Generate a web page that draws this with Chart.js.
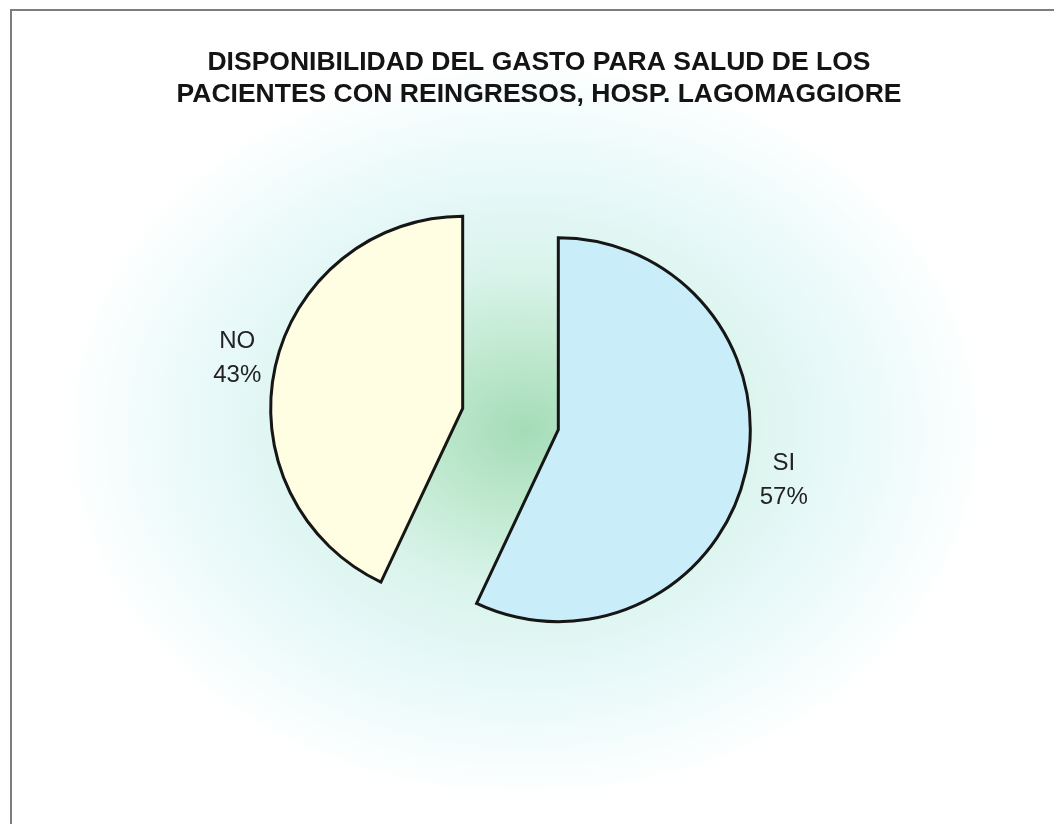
<!DOCTYPE html>
<html>
<head>
<meta charset="utf-8">
<script src="https://cdn.jsdelivr.net/npm/chart.js@4.4.1/dist/chart.umd.min.js"></script>
<style>
  html, body { margin: 0; padding: 0; background: #ffffff; }
  #wrap { position: relative; width: 1054px; height: 824px; }
</style>
</head>
<body>
<div id="wrap"><canvas id="c" width="1054" height="824"></canvas></div>
<script>
// ---- data ----
const titleLines = [
  'DISPONIBILIDAD DEL GASTO PARA SALUD DE LOS',
  'PACIENTES CON REINGRESOS, HOSP. LAGOMAGGIORE'
];
const categories = ['SI', 'NO'];
const percentages = [57, 43];

// ---- style ----
const sliceColors = ['#c9eef9', '#fffde2'];
const EXPLODE = 49;
const LABEL_DIST = 231;

const backgroundPlugin = {
  id: 'bg',
  beforeDraw(chart) {
    const ctx = chart.ctx;
    const w = chart.width, h = chart.height;
    ctx.save();
    ctx.fillStyle = '#ffffff';
    ctx.fillRect(0, 0, w, h);
    // soft green/cyan glow
    ctx.translate(525, 430);
    ctx.scale(1.25, 1);
    const g = ctx.createRadialGradient(0, 0, 0, 0, 0, 370);
    g.addColorStop(0, 'rgb(165,220,184)');
    g.addColorStop(0.22, 'rgb(192,233,207)');
    g.addColorStop(0.42, 'rgb(216,243,234)');
    g.addColorStop(0.65, 'rgb(230,248,248)');
    g.addColorStop(0.85, 'rgb(243,252,252)');
    g.addColorStop(1, 'rgba(255,255,255,1)');
    ctx.fillStyle = g;
    ctx.fillRect(-700, -700, 1400, 1400);
    ctx.restore();
    // frame
    ctx.save();
    ctx.strokeStyle = '#7d7d7d';
    ctx.lineWidth = 2;
    ctx.beginPath();
    ctx.moveTo(11, h);
    ctx.lineTo(11, 10);
    ctx.lineTo(w, 10);
    ctx.stroke();
    ctx.restore();
  }
};

const explodePlugin = {
  id: 'explode',
  beforeDatasetDraw(chart, args) {
    const ctx = chart.ctx;
    args.meta.data.forEach((arc) => {
      const mid = (arc.startAngle + arc.endAngle) / 2;
      ctx.save();
      ctx.translate(Math.cos(mid) * EXPLODE, Math.sin(mid) * EXPLODE);
      arc.draw(ctx);
      ctx.restore();
    });
    return false;
  }
};

const textPlugin = {
  id: 'texts',
  afterDraw(chart) {
    const ctx = chart.ctx;
    ctx.save();
    // title
    ctx.fillStyle = '#141414';
    ctx.font = 'bold 26.5px "Liberation Sans", Arial, sans-serif';
    ctx.textAlign = 'center';
    ctx.textBaseline = 'alphabetic';
    titleLines.forEach((t, i) => ctx.fillText(t, 539, 70 + i * 32));
    // slice labels
    ctx.font = '24px "Liberation Sans", Arial, sans-serif';
    ctx.fillStyle = '#222222';
    ctx.textBaseline = 'middle';
    const meta = chart.getDatasetMeta(0);
    meta.data.forEach((arc, i) => {
      const mid = (arc.startAngle + arc.endAngle) / 2;
      const vx = arc.x + Math.cos(mid) * EXPLODE;
      const vy = arc.y + Math.sin(mid) * EXPLODE;
      const lx = vx + Math.cos(mid) * LABEL_DIST;
      const ly = vy + Math.sin(mid) * LABEL_DIST;
      ctx.fillText(categories[i], lx, ly - 17);
      ctx.fillText(percentages[i] + '%', lx, ly + 17);
    });
    ctx.restore();
  }
};

new Chart(document.getElementById('c'), {
  type: 'pie',
  data: {
    labels: categories,
    datasets: [{
      data: percentages,
      backgroundColor: sliceColors,
      borderColor: '#161616',
      borderWidth: 3,
      borderJoinStyle: 'miter'
    }]
  },
  options: {
    responsive: false,
    animation: false,
    events: [],
    radius: 192,
    layout: { padding: { left: 0, right: 33, top: 14, bottom: 0 } },
    plugins: {
      legend: { display: false },
      tooltip: { enabled: false },
      title: { display: false }
    }
  },
  plugins: [backgroundPlugin, explodePlugin, textPlugin]
});
</script>
</body>
</html>
